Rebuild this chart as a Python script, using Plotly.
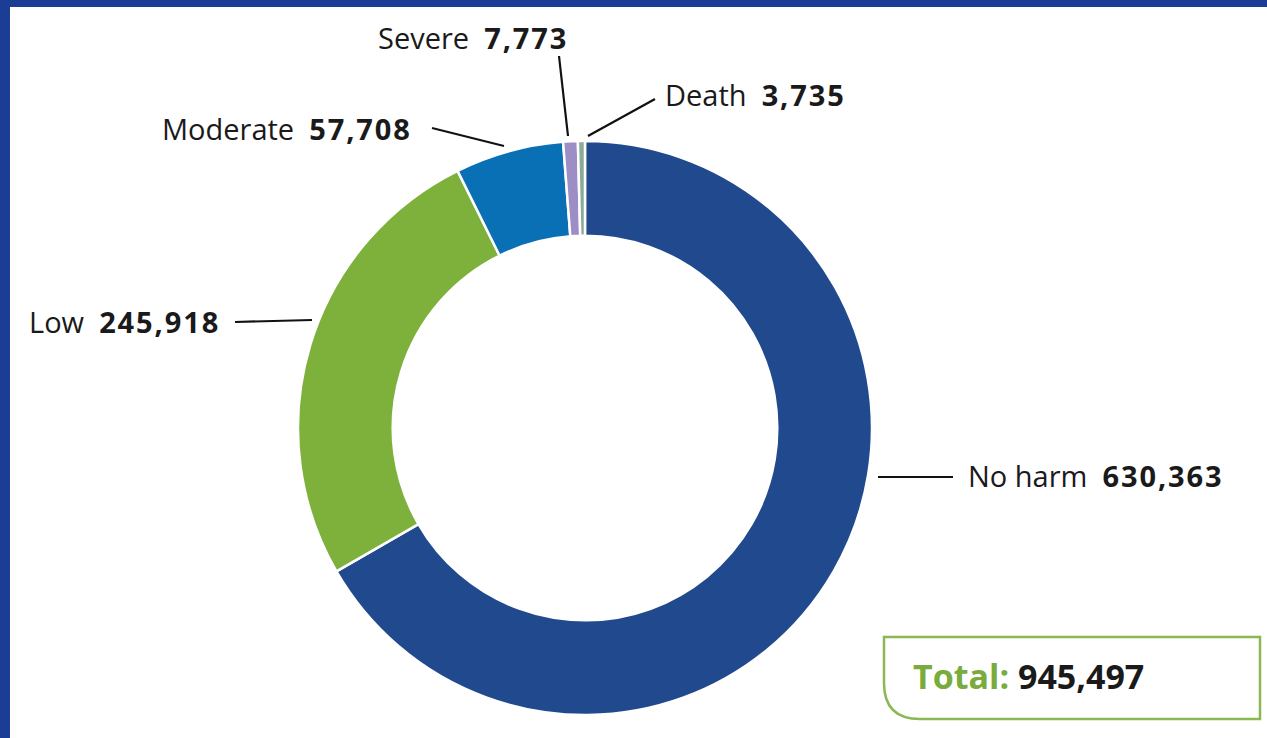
import plotly.graph_objects as go

# Incident counts by degree of harm
categories = ["No harm", "Low", "Moderate", "Severe", "Death"]
values = [630363, 245918, 57708, 7773, 3735]
colors = ["#214a8e", "#7db13c", "#0a70b5", "#9d8ec6", "#8aab98"]

W, H = 1267, 738
FONT = "Open Sans"
TEXT = "#1a1a1a"


def px(x):
    return x / W


def py(y):
    return 1 - y / H


fig = go.Figure(
    go.Pie(
        labels=categories,
        values=values,
        marker=dict(colors=colors, line=dict(color="white", width=2.5)),
        hole=0.67,
        sort=False,
        direction="clockwise",
        rotation=0,
        textinfo="none",
        hoverinfo="label+value",
        domain=dict(x=[px(298), px(872)], y=[py(715), py(141)]),
        showlegend=False,
    )
)

# label placement: (text-left x, text-centre y, leader line start, leader line end)
label_layout = {
    "No harm": (966, 476, (878, 477), (953, 477)),
    "Low": (27, 321, (235, 322), (312, 320)),
    "Moderate": (160, 128, (432, 128), (504, 146)),
    "Severe": (376, 38, (559, 56), (568, 136)),
    "Death": (663, 95, (655, 99), (588, 136)),
}

annotations = []
shapes = []
for cat, val in zip(categories, values):
    tx, ty, (x0, y0), (x1, y1) = label_layout[cat]
    annotations.append(dict(
        x=px(tx), y=py(ty), xref="paper", yref="paper",
        xanchor="left", yanchor="middle", showarrow=False,
        text=f"{cat}&nbsp;&nbsp;<span style='letter-spacing:1.9px'><b>{val:,}</b></span>",
        font=dict(family=FONT, size=29, color=TEXT),
    ))
    shapes.append(dict(
        type="line", xref="paper", yref="paper",
        x0=px(x0), y0=py(y0), x1=px(x1), y1=py(y1),
        line=dict(color="#111111", width=2.2),
    ))

# Total box with a rounded lower-left corner
bx0, by0, bx1, by1, r = 884, 637, 1260, 719, 36
path = (
    f"M {px(bx0)} {py(by0)} L {px(bx1)} {py(by0)} L {px(bx1)} {py(by1)} "
    f"L {px(bx0 + r)} {py(by1)} Q {px(bx0)} {py(by1)} {px(bx0)} {py(by1 - r)} Z"
)
shapes.append(dict(type="path", xref="paper", yref="paper", path=path,
                   line=dict(color="#8ab852", width=2.5), fillcolor="white"))

total = sum(values)
annotations.append(dict(
    x=px(911), y=py(676), xref="paper", yref="paper",
    xanchor="left", yanchor="middle", showarrow=False,
    text=f"<span style='color:#7aab3d'><b>Total:</b></span> <b>{total:,}</b>",
    font=dict(family=FONT, size=34, color=TEXT),
))

# dark blue frame along the top and left edges
frame = "#1b3d96"
shapes.append(dict(type="rect", xref="paper", yref="paper", x0=0, x1=1,
                   y0=py(7), y1=1, fillcolor=frame, line=dict(width=0), layer="below"))
shapes.append(dict(type="rect", xref="paper", yref="paper", x0=0, x1=px(10),
                   y0=0, y1=1, fillcolor=frame, line=dict(width=0), layer="below"))

fig.update_layout(
    width=W, height=H,
    margin=dict(l=0, r=0, t=0, b=0),
    paper_bgcolor="white",
    plot_bgcolor="white",
    annotations=annotations,
    shapes=shapes,
)

fig.write_html("out.html")
